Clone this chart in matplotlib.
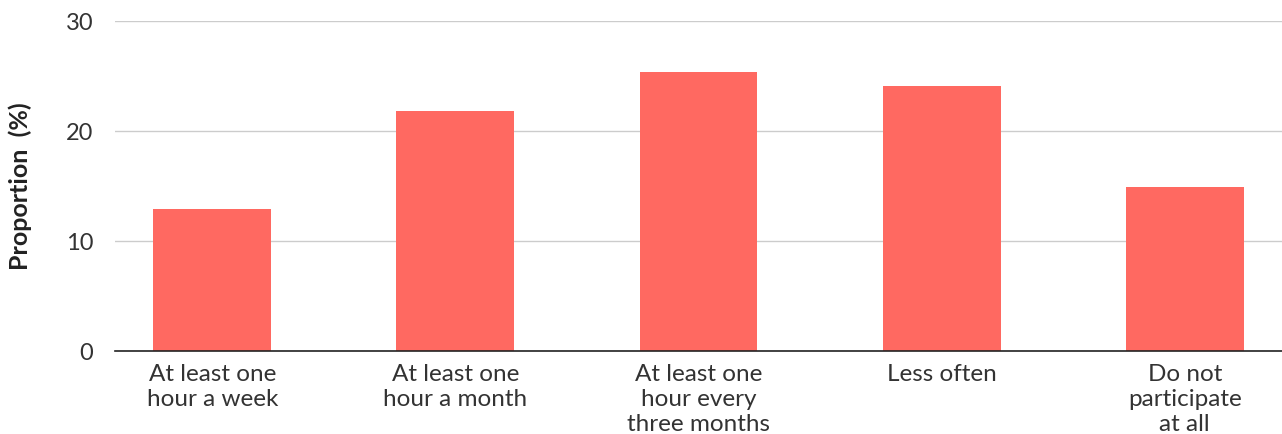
import matplotlib
matplotlib.use("Agg")
import matplotlib.pyplot as plt

categories = [
    "At least one\nhour a week",
    "At least one\nhour a month",
    "At least one\nhour every\nthree months",
    "Less often",
    "Do not\nparticipate\nat all",
]
proportions = [12.9, 21.8, 25.4, 24.1, 14.9]
y_ticks = [0, 10, 20, 30]

plt.rcParams["font.family"] = ["Lato", "DejaVu Sans"]

fig = plt.figure(figsize=(12.82, 4.34), dpi=100)
ax = fig.add_axes([115 / 1282, 1 - 351 / 434, 1 - 115 / 1282, (351 - 21) / 434])

x = range(len(categories))
ax.bar(x, proportions, width=0.485, color="#FF6961", zorder=3)

ax.set_xlim(-0.4, len(categories) - 0.6)
ax.set_ylim(0, 30)
ax.set_yticks(y_ticks)
ax.set_yticklabels([str(t) for t in y_ticks], fontsize=17, color="#333333")
ax.set_xticks(list(x))
ax.set_xticklabels(categories, fontsize=17.5, color="#333333", linespacing=1.22)

ax.grid(axis="y", color="#cccccc", linewidth=1, zorder=0)
for side in ("top", "right", "left"):
    ax.spines[side].set_visible(False)
ax.spines["bottom"].set_color("#222222")
ax.spines["bottom"].set_linewidth(1.2)
ax.spines["bottom"].set_zorder(4)
ax.tick_params(axis="both", length=0)
ax.tick_params(axis="y", pad=15.8)
ax.tick_params(axis="x", pad=9.5)

ax.set_ylabel("Proportion  (%)", fontsize=18, fontweight="bold", color="#222222")
ax.yaxis.set_label_coords(-0.071, 0.5)

fig.savefig("out.png", dpi=100)
